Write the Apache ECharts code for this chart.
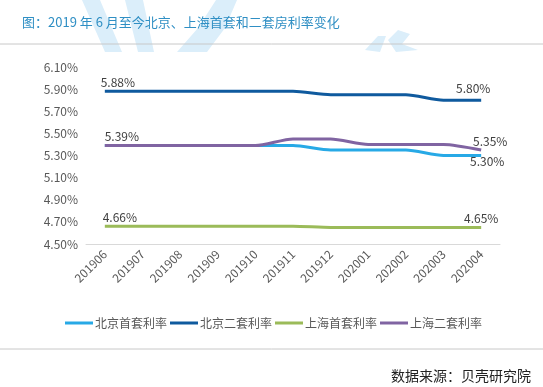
<!DOCTYPE html>
<html>
<head>
<meta charset="utf-8">
<style>
html,body{margin:0;padding:0;background:#fff;}
#main{width:543px;height:387px;}
</style>
<script src="https://cdn.jsdelivr.net/npm/echarts@6/dist/echarts.min.js"></script>
</head>
<body>
<div id="main"></div>
<script>
const categories = ['201906','201907','201908','201909','201910','201911','201912','202001','202002','202003','202004'];
const bjFirst  = [5.39,5.39,5.39,5.39,5.39,5.39,5.35,5.35,5.35,5.30,5.30];
const bjSecond = [5.88,5.88,5.88,5.88,5.88,5.88,5.85,5.85,5.85,5.80,5.80];
const shFirst  = [4.66,4.66,4.66,4.66,4.66,4.66,4.65,4.65,4.65,4.65,4.65];
const shSecond = [5.39,5.39,5.39,5.39,5.39,5.45,5.45,5.40,5.40,5.40,5.35];
const seriesNames = ['北京首套利率','北京二套利率','上海首套利率','上海二套利率'];
const colors = ['#27a9e6','#0f5a9e','#9bbb59','#8064a2'];
const titleText = '图：2019 年 6 月至今北京、上海首套和二套房利率变化';
const sourceText = '数据来源：贝壳研究院';

const FONT = '"Noto Sans CJK SC", "Noto Sans", sans-serif';
const chart = echarts.init(document.getElementById('main'));

function endLabels(data, firstPos, lastPos, firstOff, lastOff) {
  return data.map((v, i) => {
    if (i === 0 && firstPos) return {value: v, label: {show: true, position: firstPos, offset: firstOff}};
    if (i === data.length - 1 && lastPos) return {value: v, label: {show: true, position: lastPos, offset: lastOff}};
    return v;
  });
}

function mk(name, data, color) {
  return {
    name, type: 'line', data, smooth: 0.25, symbol: 'circle', symbolSize: 0, showSymbol: true,
    lineStyle: {color, width: 3}, itemStyle: {color},
    label: {
      show: false,
      formatter: p => Number(p.value).toFixed(2) + '%',
      color: '#404040', fontSize: 12, fontFamily: FONT, distance: 3
    },
    emphasis: {disabled: true}, z: 3
  };
}

const wm = '#dbeefa';
const option = {
  animation: false,
  color: colors,
  title: [
    {text: titleText, left: 17, top: 11, textStyle: {color: '#2f8fc4', fontSize: 13, fontWeight: 'normal', fontFamily: FONT}},
    {text: sourceText, right: 7, top: 364, textStyle: {color: '#222', fontSize: 14, fontWeight: 'normal', fontFamily: FONT}}
  ],
  graphic: [
    {type: 'polygon', z: -10, shape: {points: [[82,0],[100,0],[122,52],[105,52]]}, style: {fill: wm}},
    {type: 'polygon', z: -10, shape: {points: [[125,0],[143,0],[154,52],[138,52]]}, style: {fill: wm}},
    {type: 'polygon', z: -10, shape: {points: [[216,0],[237,0],[225,28],[207,52],[177,52],[198,28]]}, style: {fill: wm}},
    {type: 'polygon', z: -10, shape: {points: [[365,50],[378,36],[386,36],[380,52]]}, style: {fill: wm}},
    {type: 'polygon', z: -10, shape: {points: [[388,40],[398,30],[410,34],[402,44],[418,50],[396,52]]}, style: {fill: wm}},
    {type: 'line', shape: {x1: 0, y1: 44, x2: 543, y2: 44}, style: {stroke: '#c8c8c8', lineWidth: 1}},
    {type: 'line', shape: {x1: 0, y1: 349, x2: 543, y2: 349}, style: {stroke: '#c8c8c8', lineWidth: 1}}
  ],
  grid: {left: 86, right: 43, top: 67, bottom: 143},
  legend: {
    data: seriesNames, left: 60, top: 312, itemWidth: 28, itemHeight: 3, itemGap: 3,
    icon: 'rect',
    textStyle: {color: '#595959', fontSize: 12, fontFamily: FONT, padding: [0, 0, 0, -3]}
  },
  xAxis: {
    type: 'category', data: categories, boundaryGap: true,
    axisLine: {lineStyle: {color: '#d9d9d9'}}, axisTick: {show: false},
    axisLabel: {rotate: 45, color: '#595959', fontSize: 12, fontFamily: FONT, margin: 8, interval: 0}
  },
  yAxis: {
    type: 'value', min: 4.5, max: 6.1, interval: 0.2,
    splitLine: {show: false}, axisLine: {show: false}, axisTick: {show: false},
    axisLabel: {formatter: v => v.toFixed(2) + '%', color: '#595959', fontSize: 12, fontFamily: FONT, margin: 8}
  },
  series: [
    mk(seriesNames[0], endLabels(bjFirst, null, 'bottom', [0, 0], [6, -3]), colors[0]),
    mk(seriesNames[1], endLabels(bjSecond, 'top', 'top', [13, 0], [-8, -3]), colors[1]),
    mk(seriesNames[2], endLabels(shFirst, 'top', 'top', [15, 0], [0, 0]), colors[2]),
    mk(seriesNames[3], endLabels(shSecond, 'top', 'top', [17, 0], [9, 0]), colors[3])
  ]
};
chart.setOption(option);
</script>
</body>
</html>
